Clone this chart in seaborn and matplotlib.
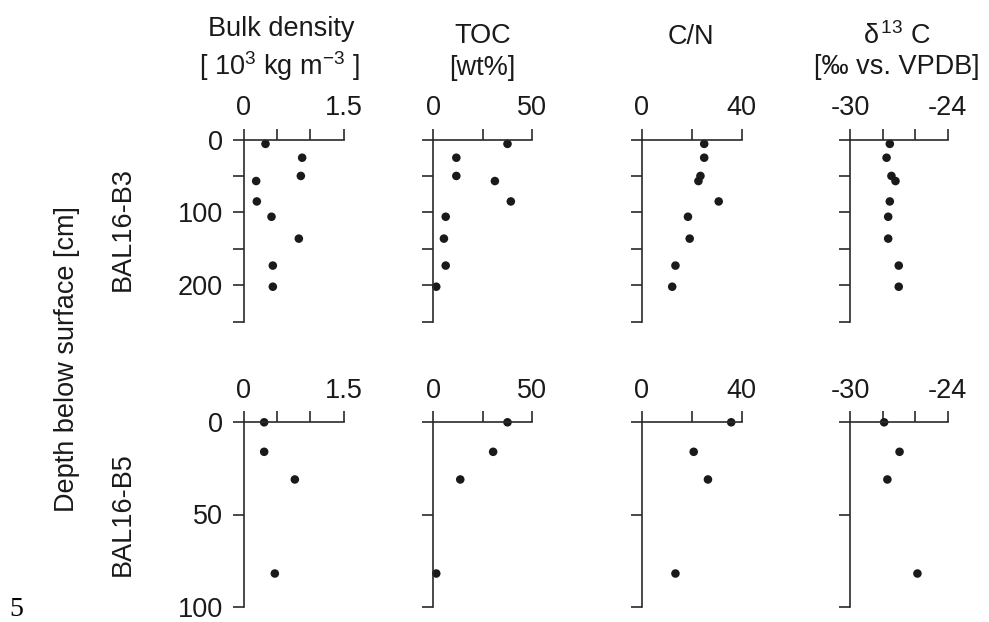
import matplotlib
matplotlib.use("Agg")
import matplotlib.pyplot as plt
import numpy as np
import pandas as pd
import seaborn as sns

# ---------------- data ----------------
depth_b3 = [6, 25, 50, 57, 85, 106, 136, 173, 202]
bulk_b3 = [0.33, 0.88, 0.86, 0.19, 0.20, 0.42, 0.83, 0.44, 0.44]
toc_b3 = [37.7, 11.7, 11.7, 31.3, 39.4, 6.3, 5.4, 6.3, 1.5]
cn_b3 = [25.0, 25.0, 23.5, 22.7, 30.8, 18.5, 19.2, 13.5, 12.2]
d13c_b3 = [-27.55, -27.75, -27.45, -27.2, -27.55, -27.65, -27.65, -27.0, -27.0]

depth_b5 = [0, 16, 31, 82]
bulk_b5 = [0.31, 0.31, 0.77, 0.47]
toc_b5 = [37.7, 30.4, 13.7, 1.5]
cn_b5 = [35.8, 20.8, 26.5, 13.5]
d13c_b5 = [-27.9, -26.95, -27.7, -25.85]

variables = ["bulk", "toc", "cn", "d13c"]
xlims = [(0, 1.5), (0, 50), (0, 40), (-30, -24)]
xticks = [[0, 0.5, 1.0, 1.5], [0, 25, 50], [0, 20, 40], [-30, -28, -26, -24]]
xticklabels = [["0", "", "", "1.5"], ["0", "", "50"], ["0", "", "40"], ["-30", "", "", "-24"]]

cores = ["BAL16-B3", "BAL16-B5"]
ylims = [(0, 250), (0, 100)]
yticks = [[0, 50, 100, 150, 200, 250], [0, 50, 100]]
yticklabels = [["0", "", "100", "", "200", ""], ["0", "50", "100"]]

df_b3 = pd.DataFrame({"depth": depth_b3, "bulk": bulk_b3, "toc": toc_b3,
                      "cn": cn_b3, "d13c": d13c_b3})
df_b5 = pd.DataFrame({"depth": depth_b5, "bulk": bulk_b5, "toc": toc_b5,
                      "cn": cn_b5, "d13c": d13c_b5})
frames = [df_b3, df_b5]

# ---------------- style ----------------
sns.set_theme(style="ticks")
FS = 19.5
plt.rcParams["font.family"] = ["Liberation Sans", "DejaVu Sans"]
plt.rcParams["mathtext.fontset"] = "custom"
plt.rcParams["mathtext.rm"] = "Liberation Sans"
plt.rcParams["mathtext.it"] = "Liberation Sans:italic"
plt.rcParams["mathtext.bf"] = "Liberation Sans:bold"

W, H = 989, 622
fig = plt.figure(figsize=(W / 100, H / 100), dpi=100)

lefts = [243.5, 433.3, 641.7, 850.0]
widths = [100.0, 98.4, 100.0, 97.5]
rows = [(139.5, 321.7), (422.3, 606.7)]

axc = "#2a2a2a"
for r, (ytop, ybot) in enumerate(rows):
    df = frames[r]
    for c, var in enumerate(variables):
        ax = fig.add_axes([lefts[c] / W, 1 - ybot / H, widths[c] / W, (ybot - ytop) / H])
        sns.scatterplot(data=df, x=var, y="depth", ax=ax, s=38, color="#1a1a1a",
                        edgecolor="none", linewidth=0, clip_on=False, legend=False)
        ax.set_xlim(*xlims[c])
        ax.set_ylim(ylims[r][1], ylims[r][0])
        ax.xaxis.set_ticks_position("top")
        ax.set_xticks(xticks[c])
        ax.set_xticklabels(xticklabels[c])
        ax.set_yticks(yticks[r])
        if c == 0:
            ax.set_yticklabels(yticklabels[r])
        else:
            ax.set_yticklabels([""] * len(yticks[r]))
        ax.set_xlabel("")
        ax.set_ylabel("")
        for side in ["bottom", "right"]:
            ax.spines[side].set_visible(False)
        for side in ["top", "left"]:
            ax.spines[side].set_visible(True)
            ax.spines[side].set_color(axc)
            ax.spines[side].set_linewidth(1.2)
        ax.tick_params(axis="x", which="both", direction="out", length=8, width=1.2,
                       color=axc, pad=5.5, labelsize=FS, labelcolor="#1a1a1a",
                       top=True, bottom=False, labeltop=True, labelbottom=False)
        ax.tick_params(axis="y", which="both", direction="out", length=8, width=1.2,
                       color=axc, pad=7, labelsize=FS, labelcolor="#1a1a1a")
        ax.set_facecolor("none")
        ax.grid(False)


def ftext(xp, yp, s, **kw):
    fig.text(xp / W, 1 - yp / H, s, **kw)


tc = "#1a1a1a"
ftext(281, 36, "Bulk density", ha="center", va="baseline", fontsize=FS, color=tc)
ftext(279, 75, r"[ 10$^{3}$ kg m$^{-3}$ ]", ha="center", va="baseline", fontsize=FS, color=tc)
ftext(482.5, 43, "TOC", ha="center", va="baseline", fontsize=FS, color=tc)
ftext(482.5, 75, "[wt%]", ha="center", va="baseline", fontsize=FS, color=tc)
ftext(691, 44, "C/N", ha="center", va="baseline", fontsize=FS, color=tc)
ftext(896.7, 44, r"$\mathrm{\delta}^{\,13}$ C", ha="center", va="baseline", fontsize=FS, color=tc)
ftext(896.7, 74, "[‰ vs. VPDB]", ha="center", va="baseline", fontsize=FS, color=tc)

ftext(67, 359, "Depth below surface [cm]", rotation=90, ha="center", va="center",
      fontsize=FS, color=tc)
ftext(123, 229, cores[0], rotation=90, ha="center", va="center", fontsize=FS, color=tc)
ftext(123, 514, cores[1], rotation=90, ha="center", va="center", fontsize=FS, color=tc)
ftext(16, 610, "5", ha="center", va="center", fontsize=20, color="black",
      family=["Liberation Serif", "DejaVu Serif"])

fig.savefig("out.png", dpi=100, facecolor="white")
